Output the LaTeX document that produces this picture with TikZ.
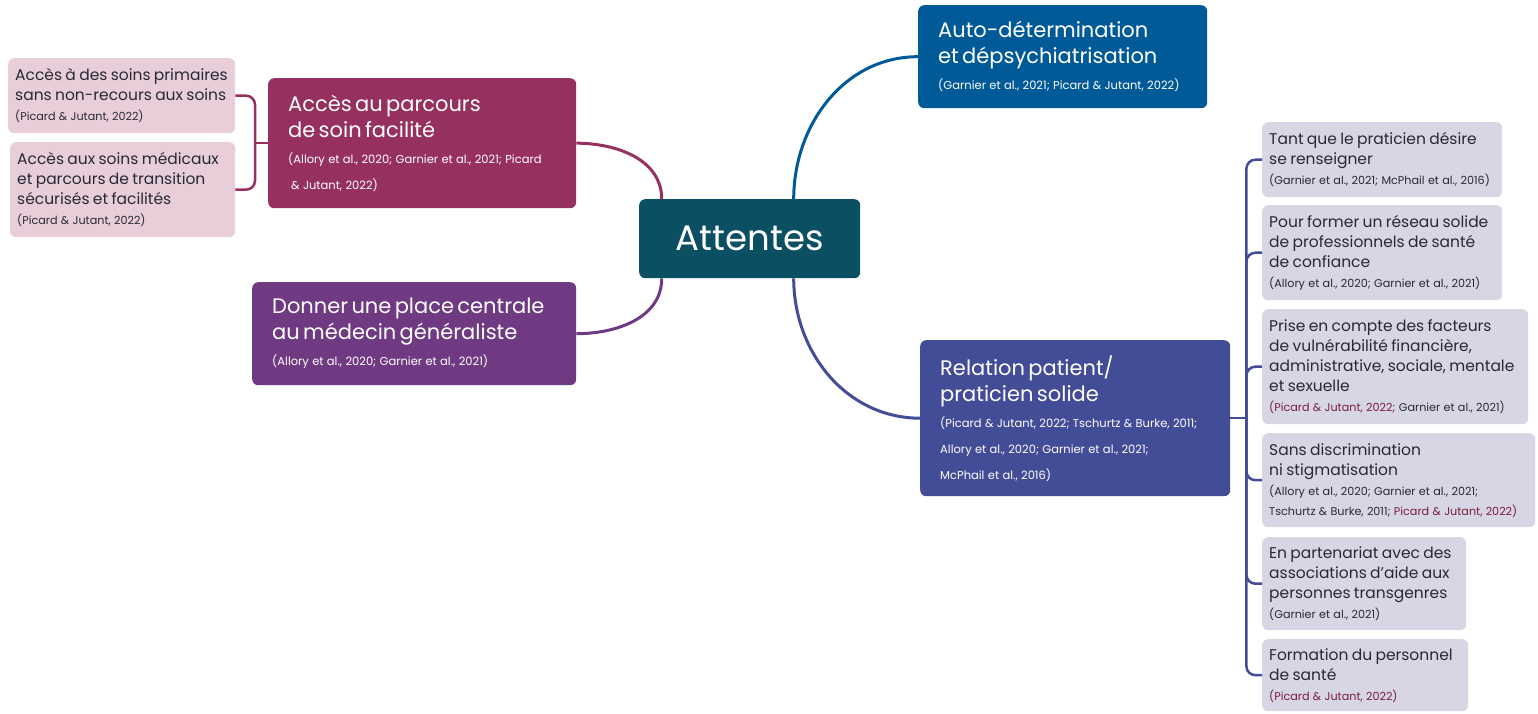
\documentclass[tikz,border=0pt]{standalone}
\usepackage{fontspec}
\setmainfont{Poppins}
\usetikzlibrary{positioning}

\definecolor{cCore}{RGB}{11,79,99}
\definecolor{cAuto}{RGB}{0,90,152}
\definecolor{cAcces}{RGB}{150,48,96}
\definecolor{cDonner}{RGB}{111,58,130}
\definecolor{cRelation}{RGB}{67,76,150}
\definecolor{cLeafPink}{RGB}{232,206,216}
\definecolor{cLeafGrey}{RGB}{214,214,228}
\definecolor{cInk}{RGB}{40,40,55}
\definecolor{cRefRed}{RGB}{122,30,60}

\newcommand{\hd}[1]{{\fontsize{21}{26}\selectfont #1\par}}
\newcommand{\rf}[1]{{\fontsize{11.5}{26}\selectfont #1\par}}
\newcommand{\lf}[1]{{\fontsize{15.5}{20}\selectfont #1\par}}
\newcommand{\lr}[1]{{\fontsize{11.2}{20}\selectfont #1\par}}
\newcommand{\rd}[1]{\textcolor{cRefRed}{#1}}

\tikzset{
  mainbox/.style={rounded corners=6, text=white, inner xsep=20, inner ysep=0,
    align=left, anchor=north west},
  leafbox/.style={rounded corners=6, text=cInk, inner xsep=7, inner ysep=0,
    align=left, anchor=north west},
  link/.style={line width=3},
  bus/.style={line width=2.5, rounded corners=9},
}

\begin{document}
\begin{tikzpicture}[x=1pt, y=1pt]
    \useasboundingbox (0,0) rectangle (1538,713);

    % centre
    \node[fill=cCore, rounded corners=6, text=white, minimum width=221,
          minimum height=79, anchor=north west,
          font=\fontsize{35.5}{40}\selectfont] (core) at (639,514) {Attentes};

    % main branches
    \node[mainbox, fill=cAuto, text width=249, minimum height=103] (auto) at (918,708)
        {\hd{Auto-détermination\\et dépsychiatrisation}\rf{(Garnier et al., 2021; Picard \& Jutant, 2022)}};
    \node[mainbox, fill=cAcces, text width=268, minimum height=130] (acces) at (268,635)
        {\hd{Accès au parcours\\de soin facilité}\rf{(Allory et al., 2020; Garnier et al., 2021; Picard\\\hspace{3pt}\& Jutant, 2022)}};
    \node[mainbox, fill=cDonner, text width=284, minimum height=103] (donner) at (252,431)
        {\hd{Donner une place centrale\\au médecin généraliste}\rf{(Allory et al., 2020; Garnier et al., 2021)}};
    \node[mainbox, fill=cRelation, text width=270, minimum height=156] (relation) at (920,373)
        {\hd{Relation patient/\\praticien solide}\rf{(Picard \& Jutant, 2022; Tschurtz \& Burke, 2011;\\Allory et al., 2020; Garnier et al., 2021;\\McPhail et al., 2016)}};

    % left leaves
    \node[leafbox, fill=cLeafPink, text width=213, minimum height=75] (accesA) at (8,655)
        {\lf{Accès à des soins primaires\\sans non-recours aux soins}\lr{(Picard \& Jutant, 2022)}};
    \node[leafbox, fill=cLeafPink, text width=211, minimum height=95] (accesB) at (10,571)
        {\lf{Accès aux soins médicaux\\et parcours de transition\\sécurisés et facilités}\lr{(Picard \& Jutant, 2022)}};

    % right leaves
    \node[leafbox, fill=cLeafGrey, text width=226, minimum height=75] (rA) at (1262,591)
        {\lf{Tant que le praticien désire\\se renseigner}\lr{(Garnier et al., 2021; McPhail et al., 2016)}};
    \node[leafbox, fill=cLeafGrey, text width=226, minimum height=95] (rB) at (1262,508)
        {\lf{Pour former un réseau solide\\de professionnels de santé\\de confiance}\lr{(Allory et al., 2020; Garnier et al., 2021)}};
    \node[leafbox, fill=cLeafGrey, text width=252, minimum height=115] (rC) at (1262,404)
        {\lf{Prise en compte des facteurs\\de vulnérabilité financière,\\administrative, sociale, mentale\\et sexuelle}\lr{\rd{(Picard \& Jutant, 2022;} Garnier et al., 2021)}};
    \node[leafbox, fill=cLeafGrey, text width=259, minimum height=94] (rD) at (1262,280)
        {\lf{Sans discrimination\\ni stigmatisation}\lr{(Allory et al., 2020; Garnier et al., 2021;\\Tschurtz \& Burke, 2011; \rd{Picard \& Jutant, 2022)}}};
    \node[leafbox, fill=cLeafGrey, text width=190, minimum height=93] (rE) at (1262,176)
        {\lf{En partenariat avec des\\associations d’aide aux\\personnes transgenres}\lr{(Garnier et al., 2021)}};
    \node[leafbox, fill=cLeafGrey, text width=192, minimum height=72] (rF) at (1262,74)
        {\lf{Formation du personnel\\de santé}\lr{\rd{(Picard \& Jutant, 2022)}}};

    % curved links from the centre
    \draw[link, cAuto] ([xshift=44]core.north) to[out=90, in=180] (auto.west);
    \draw[link, cAcces] ([xshift=-88]core.north) to[out=90, in=0] (acces.east);
    \draw[link, cDonner] ([xshift=-88]core.south) to[out=-90, in=0] (donner.east);
    \draw[link, cRelation] ([xshift=44]core.south) to[out=-90, in=180] (relation.west);

    % brackets
    \coordinate (lhub) at ([xshift=-13]acces.west);
    \draw[bus, cAcces] (acces.west) -- (lhub);
    \foreach \leaf in {accesA, accesB}
        \draw[bus, cAcces] (lhub) |- (\leaf.east);

    \coordinate (rhub) at ([xshift=16]relation.east);
    \draw[bus, cRelation] (relation.east) -- (rhub);
    \foreach \leaf in {rA, rB, rC, rD, rE, rF}
        \draw[bus, cRelation] (rhub) |- (\leaf.west);
\end{tikzpicture}
\end{document}
